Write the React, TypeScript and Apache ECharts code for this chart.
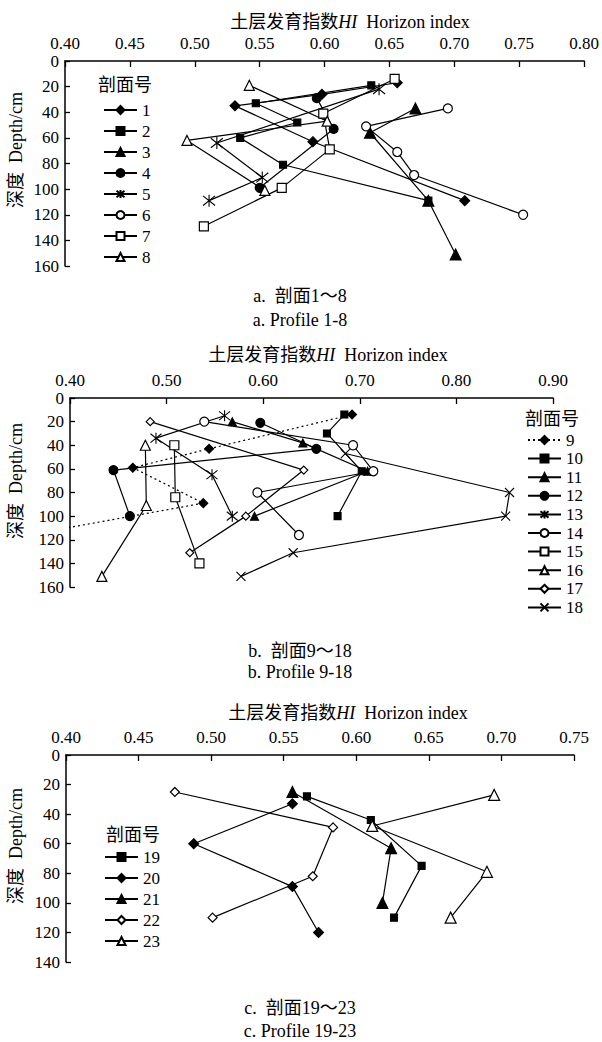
import React, { useEffect, useRef } from 'react';
import * as echarts from 'echarts';

const FONT = '"Liberation Serif", "Times New Roman", "Noto Sans CJK SC", serif';

// ---- Panel a: profiles 1-8  [HI, depth cm]
const p1 = [[0.656, 17], [0.598, 26], [0.531, 35], [0.591, 63], [0.708, 109]];
const p2 = [[0.636, 19], [0.547, 33], [0.579, 48], [0.535, 60], [0.568, 81], [0.680, 109]];
const p3 = [[0.670, 37], [0.635, 56], [0.680, 109], [0.701, 151]];
const p4 = [[0.594, 29], [0.607, 53], [0.550, 99]];
const p5 = [[0.642, 22], [0.517, 64], [0.552, 91], [0.511, 109]];
const p6 = [[0.695, 37], [0.632, 51], [0.656, 71], [0.669, 89], [0.753, 120]];
const p7 = [[0.654, 14], [0.599, 41], [0.604, 69], [0.567, 99], [0.507, 129]];
const p8 = [[0.542, 19], [0.602, 47], [0.494, 62], [0.554, 101]];

// ---- Panel b: profiles 9-18
const p9 = [[0.692, 14], [0.544, 43], [0.465, 59], [0.538, 89], [0.39, 111]];
const p10 = [[0.684, 14], [0.666, 30], [0.702, 62], [0.677, 100]];
const p11 = [[0.568, 20], [0.641, 38], [0.708, 62], [0.591, 100]];
const p12 = [[0.597, 21], [0.655, 43], [0.445, 61], [0.462, 100]];
const p13 = [[0.560, 15], [0.489, 34], [0.547, 65], [0.568, 100]];
const p14 = [[0.539, 20], [0.693, 40], [0.714, 62], [0.594, 80], [0.637, 116]];
const p15 = [[0.508, 40], [0.509, 84], [0.534, 140]];
const p16 = [[0.478, 40], [0.479, 91], [0.433, 151]];
const p17 = [[0.483, 20], [0.642, 61], [0.582, 100], [0.524, 131]];
const p18 = [[0.685, 47], [0.855, 80], [0.851, 100], [0.631, 131], [0.577, 151]];

// ---- Panel c: profiles 19-23
const p19 = [[0.566, 28], [0.610, 44], [0.645, 75], [0.626, 110]];
const p20 = [[0.556, 33], [0.488, 60], [0.556, 89], [0.574, 120]];
const p21 = [[0.556, 25], [0.624, 63], [0.618, 100]];
const p22 = [[0.475, 25], [0.584, 49], [0.570, 82], [0.501, 110]];
const p23 = [[0.695, 27], [0.611, 48], [0.690, 79], [0.665, 110]];

const legendA = ['1', '2', '3', '4', '5', '6', '7', '8'];
const legendB = ['9', '10', '11', '12', '13', '14', '15', '16', '17', '18'];
const legendC = ['19', '20', '21', '22', '23'];

const xMaxA = 0.8, xMaxB = 0.9, xMaxC = 0.75;
const yMaxA = 160, yMaxB = 160, yMaxC = 140;

const ASTER = 'path://M5,0L5,10M1,1L9,9M1,9L9,1';
const CROSS = 'path://M0,0L10,10M0,10L10,0';

type Mk = { sym: string; size: number; fill: boolean; dotted?: boolean };
const marks: Record<string, Mk> = {
  '1': { sym: 'diamond', size: 10, fill: true },
  '2': { sym: 'rect', size: 7, fill: true },
  '3': { sym: 'triangle', size: 11, fill: true },
  '4': { sym: 'circle', size: 9, fill: true },
  '5': { sym: ASTER, size: 12, fill: true },
  '6': { sym: 'circle', size: 9, fill: false },
  '7': { sym: 'rect', size: 9, fill: false },
  '8': { sym: 'triangle', size: 10, fill: false },
  '9': { sym: 'diamond', size: 9, fill: true, dotted: true },
  '10': { sym: 'rect', size: 7, fill: true },
  '11': { sym: 'triangle', size: 8, fill: true },
  '12': { sym: 'circle', size: 9, fill: true },
  '13': { sym: ASTER, size: 11, fill: true },
  '14': { sym: 'circle', size: 9, fill: false },
  '15': { sym: 'rect', size: 9, fill: false },
  '16': { sym: 'triangle', size: 10, fill: false },
  '17': { sym: 'diamond', size: 8, fill: false },
  '18': { sym: CROSS, size: 9, fill: true },
  '19': { sym: 'rect', size: 7, fill: true },
  '20': { sym: 'diamond', size: 10, fill: true },
  '21': { sym: 'triangle', size: 11, fill: true },
  '22': { sym: 'diamond', size: 9, fill: false },
  '23': { sym: 'triangle', size: 11, fill: false },
};

const seriesData: [string, number[][], number][] = [
  ['1', p1, 0], ['2', p2, 0], ['3', p3, 0], ['4', p4, 0], ['5', p5, 0], ['6', p6, 0], ['7', p7, 0], ['8', p8, 0],
  ['9', p9, 1], ['10', p10, 1], ['11', p11, 1], ['12', p12, 1], ['13', p13, 1], ['14', p14, 1], ['15', p15, 1],
  ['16', p16, 1], ['17', p17, 1], ['18', p18, 1],
  ['19', p19, 2], ['20', p20, 2], ['21', p21, 2], ['22', p22, 2], ['23', p23, 2],
];

function xAxis(idx: number, max: number, interval: number) {
  return {
    type: 'value', gridIndex: idx, position: 'top', min: 0.4, max, interval,
    axisLine: { show: true, lineStyle: { color: '#000', width: 1.5 } },
    axisTick: { show: true, inside: true, length: 6, lineStyle: { color: '#000', width: 1.3 } },
    axisLabel: { color: '#000', fontSize: 17, fontFamily: FONT, margin: 9, formatter: (v: number) => v.toFixed(2) },
    splitLine: { show: false },
  };
}
function yAxis(idx: number, max: number) {
  return {
    type: 'value', gridIndex: idx, inverse: true, min: 0, max, interval: 20,
    axisLine: { show: true, lineStyle: { color: '#000', width: 1.5 } },
    axisTick: { show: true, inside: true, length: 5, lineStyle: { color: '#000', width: 1.3 } },
    axisLabel: { color: '#000', fontSize: 17, fontFamily: FONT, margin: 6 },
    splitLine: { show: false },
  };
}
function legend(data: string[], left: number, top: number, gap: number) {
  return {
    data, orient: 'vertical', left, top, itemWidth: 33, itemHeight: 10, itemGap: gap,
    padding: 0, selectedMode: false,
    textStyle: { color: '#000', fontSize: 17, fontFamily: FONT, lineHeight: 17, padding: [0, 0, 0, 0] },
  };
}
function txt(x: number, y: number, text: string, size = 18, rot = 0) {
  return {
    type: 'text', x, y, rotation: rot,
    style: { text, fill: '#000', font: `${size}px ${FONT}`, align: 'center', verticalAlign: 'middle' },
  };
}
function title(x: number, y: number) {
  return {
    type: 'text', x, y,
    style: {
      text: '{c|土层发育指数}{i|HI}{c|  Horizon index}',
      align: 'center', verticalAlign: 'middle', fill: '#000',
      rich: {
        c: { fontSize: 18, fontFamily: FONT, fill: '#000' },
        i: { fontSize: 18, fontFamily: FONT, fontStyle: 'italic', fill: '#000' },
      },
    },
  };
}

export default function App() {
  const ref = useRef<HTMLDivElement>(null);
  useEffect(() => {
    if (!ref.current) return;
    const chart = echarts.init(ref.current, undefined, { renderer: 'svg' });
    const series = seriesData.map(([name, data, g]) => {
      const m = marks[name];
      return {
        name, type: 'line', xAxisIndex: g, yAxisIndex: g, data,
        symbol: m.sym, symbolSize: m.size, showAllSymbol: true, clip: true,
        lineStyle: { color: '#000', width: 1.2, type: m.dotted ? [2, 3] : 'solid' },
        itemStyle: { color: m.fill ? '#000' : '#fff', borderColor: '#000', borderWidth: m.fill ? 1.1 : 1.2 },
        emphasis: { disabled: true },
        z: 3,
      };
    });
    chart.setOption({
      animation: false,
      backgroundColor: '#fff',
      grid: [
        { left: 65, top: 61, width: 520, height: 205 },
        { left: 70, top: 398, width: 483, height: 189 },
        { left: 66, top: 755, width: 508, height: 207 },
      ],
      xAxis: [xAxis(0, xMaxA, 0.05), xAxis(1, xMaxB, 0.1), xAxis(2, xMaxC, 0.05)],
      yAxis: [yAxis(0, yMaxA), yAxis(1, yMaxB), yAxis(2, yMaxC)],
      legend: [legend(legendA, 103, 101.5, 4), legend(legendB, 527, 431.5, 1.6), legend(legendC, 104, 848.5, 4)],
      graphic: [
        title(350, 22), title(328, 355), title(348, 713),
        txt(16, 150, '深度  Depth/cm', 18, Math.PI / 2),
        txt(16, 481, '深度  Depth/cm', 18, Math.PI / 2),
        txt(16, 846, '深度  Depth/cm', 18, Math.PI / 2),
        txt(125, 85, '剖面号', 18),
        txt(552, 419, '剖面号', 18),
        txt(133, 835, '剖面号', 18),
        txt(300, 296, 'a.  剖面1～8', 18),
        txt(300, 320, 'a. Profile 1-8', 18),
        txt(300, 651, 'b.  剖面9～18', 18),
        txt(300, 672, 'b. Profile 9-18', 18),
        txt(300, 1008, 'c.  剖面19～23', 18),
        txt(300, 1031, 'c. Profile 19-23', 18),
      ],
      series,
    });
    return () => chart.dispose();
  }, []);
  return <div ref={ref} style={{ position: 'absolute', left: 0, top: 0, width: 602, height: 1042, background: '#fff' }} />;
}
